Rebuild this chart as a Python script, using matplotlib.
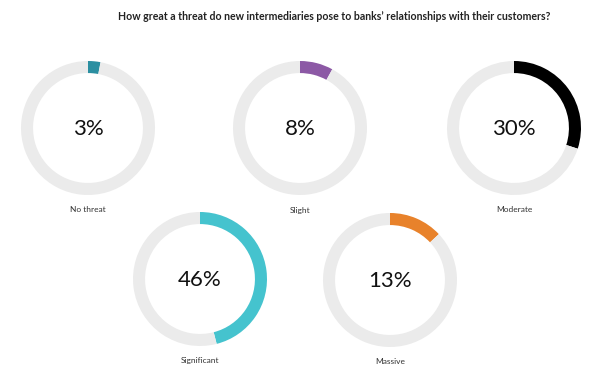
import matplotlib
matplotlib.use("Agg")
import matplotlib.pyplot as plt

# Data
labels = ["No threat", "Slight", "Moderate", "Significant", "Massive"]
values = [3, 8, 30, 46, 13]
colors = ["#2b8fa1", "#8c59a5", "#000000", "#45c3ce", "#e8822b"]
track_color = "#ebebeb"

# centres in pixels (x, y from top)
centers = [(88, 128), (300, 128), (514, 128), (200, 279), (390, 280)]
radius_px = 67

W, H = 610, 378
plt.rcParams["font.family"] = ["Lato", "DejaVu Sans"]

fig = plt.figure(figsize=(W / 100, H / 100), dpi=100)
fig.patch.set_facecolor("white")

fig.text(334 / W, 1 - 16 / H,
         "How great a threat do new intermediaries pose to banks\u2019 relationships with their customers?",
         ha="center", va="center", fontsize=7.6, fontweight="bold", color="#222222")

for lab, val, col, (cx, cy) in zip(labels, values, colors, centers):
    ax = fig.add_axes([(cx - radius_px) / W, 1 - (cy + radius_px) / H,
                       2 * radius_px / W, 2 * radius_px / H])
    ax.pie([val, 100 - val], colors=[col, track_color], startangle=90,
           counterclock=False, radius=1,
           wedgeprops=dict(width=0.18, edgecolor="none"))
    ax.set_xlim(-1, 1)
    ax.set_ylim(-1, 1)
    ax.set_aspect("equal")
    ax.axis("off")
    ax.text(0, -0.02, f"{val}%", ha="center", va="center", fontsize=16, color="#111111")
    fig.text(cx / W, 1 - (cy + 82) / H, lab, ha="center", va="center",
             fontsize=6, color="#333333")

fig.savefig("out.png", dpi=100)
